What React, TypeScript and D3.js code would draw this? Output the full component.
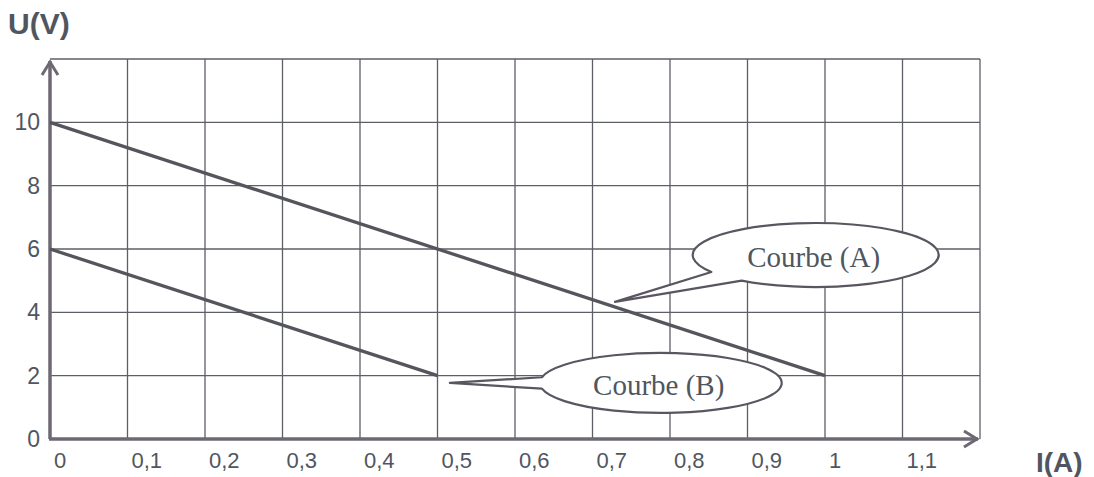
import { useEffect, useRef } from 'react'
import * as d3 from 'd3'

// values
const xTicks = [0, 0.1, 0.2, 0.3, 0.4, 0.5, 0.6, 0.7, 0.8, 0.9, 1, 1.1]
const xGrid = [0, 0.1, 0.2, 0.3, 0.4, 0.5, 0.6, 0.7, 0.8, 0.9, 1, 1.1, 1.2]
const yTicks = [0, 2, 4, 6, 8, 10]
const yGrid = [0, 2, 4, 6, 8, 10, 12]

const curveA = [
  { i: 0, u: 10 },
  { i: 1, u: 2 },
]
const curveB = [
  { i: 0, u: 6 },
  { i: 0.5, u: 2 },
]

const callouts = [
  { label: 'Courbe (A)', cx: 0.988, cy: 5.81, rx: 123, ry: 32, tipX: 0.729, tipY: 4.33, a1: 148, a2: 127 },
  { label: 'Courbe (B)', cx: 0.788, cy: 1.77, rx: 121, ry: 30, tipX: 0.516, tipY: 1.77, a1: 191, a2: 169 },
]

const W = 1094
const H = 477
const ink = '#4f5660'
const gridColor = '#5c5f66'
const axisColor = '#6d6873'

export default function App() {
  const svgRef = useRef<SVGSVGElement>(null)

  useEffect(() => {
    if (!svgRef.current) return
    const svg = d3.select(svgRef.current)
    svg.selectAll('*').remove()

    const x = d3.scaleLinear().domain([0, 1.2]).range([50, 980])
    const y = d3.scaleLinear().domain([0, 12]).range([439, 59])

    const g = svg.append('g')

    // grid
    g.selectAll('.vgrid')
      .data(xGrid.slice(1))
      .enter()
      .append('line')
      .attr('x1', d => x(d))
      .attr('x2', d => x(d))
      .attr('y1', y(0))
      .attr('y2', y(12))
      .attr('stroke', gridColor)
      .attr('stroke-width', 1.3)

    g.selectAll('.hgrid')
      .data(yGrid.slice(1))
      .enter()
      .append('line')
      .attr('x1', x(0))
      .attr('x2', x(1.2))
      .attr('y1', d => y(d))
      .attr('y2', d => y(d))
      .attr('stroke', gridColor)
      .attr('stroke-width', 1.3)

    // axes with arrows
    g.append('line')
      .attr('x1', x(0)).attr('x2', x(0))
      .attr('y1', y(0)).attr('y2', y(12) + 2)
      .attr('stroke', axisColor).attr('stroke-width', 3.5)
    g.append('path')
      .attr('d', `M${x(0) - 8},${y(12) + 16} L${x(0)},${y(12) + 3} L${x(0) + 8},${y(12) + 16}`)
      .attr('fill', 'none').attr('stroke', axisColor).attr('stroke-width', 3)

    g.append('line')
      .attr('x1', x(0) - 1).attr('x2', x(1.2) - 2)
      .attr('y1', y(0)).attr('y2', y(0))
      .attr('stroke', axisColor).attr('stroke-width', 3.5)
    g.append('path')
      .attr('d', `M${x(1.2) - 16},${y(0) - 8} L${x(1.2) - 3},${y(0)} L${x(1.2) - 16},${y(0) + 8}`)
      .attr('fill', 'none').attr('stroke', axisColor).attr('stroke-width', 3)

    // tick labels
    const fmt = (d: number) => String(d).replace('.', ',')
    g.selectAll('.xlab')
      .data(xTicks)
      .enter()
      .append('text')
      .attr('x', d => x(d) + 4)
      .attr('y', 468)
      .attr('font-family', 'Liberation Sans, Arial, sans-serif')
      .attr('font-size', 22)
      .attr('fill', ink)
      .text(fmt)

    g.selectAll('.ylab')
      .data(yTicks)
      .enter()
      .append('text')
      .attr('x', 40)
      .attr('y', d => y(d) + 8)
      .attr('text-anchor', 'end')
      .attr('font-family', 'Liberation Sans, Arial, sans-serif')
      .attr('font-size', 23)
      .attr('fill', ink)
      .text(d => String(d))

    // axis titles
    g.append('text')
      .attr('x', 8).attr('y', 34)
      .attr('font-family', 'Liberation Sans, Arial, sans-serif')
      .attr('font-size', 30).attr('font-weight', 'bold')
      .attr('fill', ink)
      .text('U(V)')
    g.append('text')
      .attr('x', 1036).attr('y', 472)
      .attr('font-family', 'Liberation Sans, Arial, sans-serif')
      .attr('font-size', 28).attr('font-weight', 'bold')
      .attr('fill', ink)
      .text('I(A)')

    // curves
    const line = d3.line<{ i: number; u: number }>()
      .x(d => x(d.i))
      .y(d => y(d.u))

    ;[curveA, curveB].forEach(data => {
      g.append('path')
        .datum(data)
        .attr('d', line)
        .attr('fill', 'none')
        .attr('stroke', '#55555e')
        .attr('stroke-width', 3.3)
    })

    // speech-bubble labels
    callouts.forEach(c => {
      const cx = x(c.cx)
      const cy = y(c.cy)
      const pt = (deg: number) => {
        const r = (deg * Math.PI) / 180
        return [cx + c.rx * Math.cos(r), cy + c.ry * Math.sin(r)]
      }
      const [b1x, b1y] = pt(c.a1)
      const [b2x, b2y] = pt(c.a2)
      g.append('path')
        .attr('d', `M${b1x},${b1y} A${c.rx},${c.ry} 0 1 1 ${b2x},${b2y} L${x(c.tipX)},${y(c.tipY)} Z`)
        .attr('fill', '#fff')
        .attr('stroke', '#5a5560')
        .attr('stroke-width', 2.2)
        .attr('stroke-linejoin', 'round')
      g.append('text')
        .attr('x', cx - 2)
        .attr('y', cy + 12)
        .attr('text-anchor', 'middle')
        .attr('font-family', 'Liberation Serif, Times New Roman, serif')
        .attr('font-size', 29)
        .attr('fill', ink)
        .text(c.label)
    })
  }, [])

  return (
    <svg
      ref={svgRef}
      width={W}
      height={H}
      style={{ position: 'absolute', left: 0, top: 0, background: '#fff' }}
    />
  )
}
